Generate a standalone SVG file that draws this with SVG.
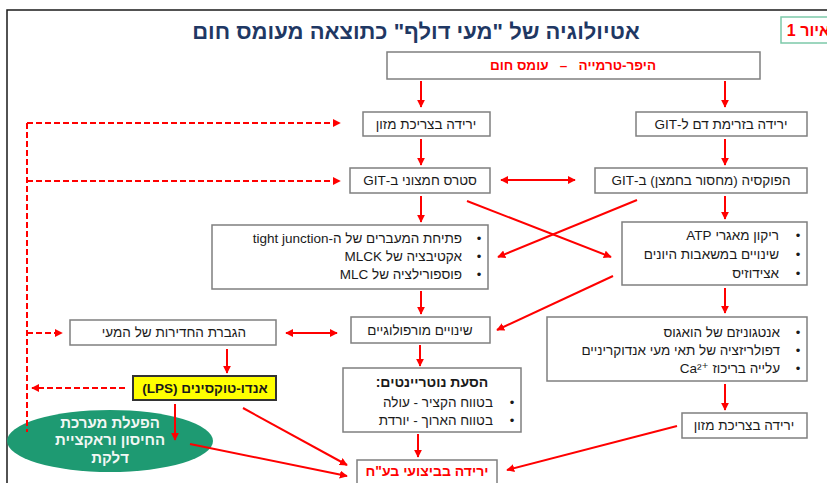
<svg xmlns="http://www.w3.org/2000/svg" width="827" height="483" viewBox="0 0 827 483">
<defs>
<marker id="ah" viewBox="0 0 10 10" refX="9" refY="5" markerWidth="4" markerHeight="4" orient="auto-start-reverse" markerUnits="strokeWidth">
<path d="M0,0 L10,5 L0,10 z" fill="#FF0000"/>
</marker>
<style>
.bx{fill:#FFFFFF;stroke:#7F7F7F;stroke-width:1.5}
.t{font-family:"Liberation Sans","DejaVu Sans",Arial,sans-serif;font-size:13.5px;fill:#1A1A1A;direction:rtl;unicode-bidi:embed}
.c{text-anchor:middle}
.r{text-anchor:start}
.b{font-weight:bold}
.red{fill:#FF0000}
.bul{font-family:"Liberation Sans",Arial,sans-serif;font-size:13px;fill:#1A1A1A;text-anchor:middle}
.ar{fill:none;stroke:#FF0000;stroke-width:2;marker-end:url(#ah)}
.ar2{fill:none;stroke:#FF0000;stroke-width:2;marker-end:url(#ah);marker-start:url(#ah)}
.da{fill:none;stroke:#FF0000;stroke-width:2;stroke-dasharray:6 3}
.dam{fill:none;stroke:#FF0000;stroke-width:2;stroke-dasharray:6 3;marker-end:url(#ah)}
.wt{font-size:15px;fill:#F2F7F4}
</style>
</defs>
<rect width="827" height="483" fill="#FFFFFF"/>
<path d="M7 483 L7 10 L827 10" fill="none" stroke="#1A1A1A" stroke-width="1.5"/>

<g id="title">
<text x="416" y="39" class="t c b" style="font-size:22px;fill:#1F3864">אטיולוגיה של "מעי דולף" כתוצאה מעומס חום</text>
</g>
<g id="figure-label">
<rect x="781" y="17" width="60" height="26" fill="#FFFFFF" stroke="#7CC9A9" stroke-width="1.5"/>
<text x="830" y="36" class="t r b red" style="font-size:16px">איור 1</text>
</g>

<g id="n-hyperthermia">
<rect x="387" y="52" width="373" height="27" class="bx"/>
<text x="573" y="70" class="t c b red" style="white-space:pre">היפר-טרמייה   –   עומס חום</text>
</g>
<g id="n-feed-intake">
<rect x="363" y="112" width="127" height="24" class="bx"/>
<text x="426" y="129" class="t c">ירידה בצריכת מזון</text>
</g>
<g id="n-blood-flow">
<rect x="636" y="112" width="171" height="24" class="bx"/>
<text x="721" y="129" class="t c">ירידה בזרימת דם ל-GIT</text>
</g>
<g id="n-oxidative">
<rect x="350" y="168" width="140" height="25" class="bx"/>
<text x="420" y="185" class="t c">סטרס חמצוני ב-GIT</text>
</g>
<g id="n-hypoxia">
<rect x="595" y="168" width="212" height="25" class="bx"/>
<text x="701" y="185" class="t c">הפוקסיה (מחסור בחמצן) ב-GIT</text>
</g>
<g id="n-tight-junction">
<rect x="212" y="225" width="276" height="64" class="bx"/>
<text x="479" y="243" class="bul">•</text>
<text x="479" y="261" class="bul">•</text>
<text x="479" y="279" class="bul">•</text>
<text x="462" y="243" class="t r">פתיחת המעברים של ה-tight junction</text>
<text x="462" y="261" class="t r">אקטיבציה של MLCK</text>
<text x="462" y="279" class="t r">פוספורילציה של MLC</text>
</g>
<g id="n-atp">
<rect x="622" y="222" width="185" height="63" class="bx"/>
<text x="798" y="240" class="bul">•</text>
<text x="798" y="259" class="bul">•</text>
<text x="798" y="278" class="bul">•</text>
<text x="779" y="240" class="t r">ריקון מאגרי ATP</text>
<text x="779" y="259" class="t r">שינויים במשאבות היונים</text>
<text x="779" y="278" class="t r">אצידוזיס</text>
</g>
<g id="n-permeability">
<rect x="70" y="320" width="206" height="25" class="bx"/>
<text x="174" y="337" class="t c">הגברת החדירות של המעי</text>
</g>
<g id="n-morphology">
<rect x="351" y="317" width="139" height="26" class="bx"/>
<text x="420" y="335" class="t c">שינויים מורפולוגיים</text>
</g>
<g id="n-antagonism">
<rect x="547" y="317" width="260" height="64" class="bx"/>
<text x="798" y="337" class="bul">•</text>
<text x="798" y="355" class="bul">•</text>
<text x="798" y="373" class="bul">•</text>
<text x="780" y="337" class="t r">אנטגוניזם של הואגוס</text>
<text x="780" y="355" class="t r">דפולריזציה של תאי מעי אנדוקריניים</text>
<text x="780" y="373" class="t r">עלייה בריכוז &#x2066;Ca²⁺&#x2069;</text>
</g>
<g id="n-lps">
<rect x="133" y="376" width="143" height="24" fill="#FFFF00" stroke="#333333" stroke-width="2"/>
<text x="205" y="393" class="t c b" style="font-size:13.5px">אנדו-טוקסינים (LPS)</text>
</g>
<g id="n-nutrients">
<rect x="343" y="368" width="178" height="64" class="bx"/>
<text x="432" y="387" class="t c b" style="font-size:14px">הסעת נוטריינטים:</text>
<text x="512" y="407" class="bul">•</text>
<text x="512" y="425" class="bul">•</text>
<text x="493" y="407" class="t r">בטווח הקציר - עולה</text>
<text x="493" y="425" class="t r">בטווח הארוך - יורדת</text>
</g>
<g id="n-immune">
<ellipse cx="110" cy="441" rx="103" ry="31" fill="#1E9A72"/>
<text x="110" y="428" class="t c b wt">הפעלת מערכת</text>
<text x="110" y="445" class="t c b wt">החיסון וראקציית</text>
<text x="110" y="463" class="t c b wt">דלקת</text>
</g>
<g id="n-feed-intake-2">
<rect x="682" y="413" width="125" height="25" class="bx"/>
<text x="744" y="430" class="t c">ירידה בצריכת מזון</text>
</g>
<g id="n-performance">
<rect x="357" y="460" width="140" height="28" class="bx"/>
<text x="427" y="476" class="t c b red" style="font-size:14px">ירידה בביצועי בע"ח</text>
</g>

<g id="connectors">
<path d="M421 81 L421 107" class="ar"/>
<path d="M725 81 L725 107" class="ar"/>
<path d="M421 139 L421 165" class="ar"/>
<path d="M725 139 L725 165" class="ar"/>
<path d="M501 180 L575 180" class="ar2"/>
<path d="M421 196 L421 222" class="ar"/>
<path d="M725 196 L725 219" class="ar"/>
<path d="M467 201 L611 257" class="ar"/>
<path d="M637 200 L498 257" class="ar"/>
<path d="M421 291 L421 314" class="ar"/>
<path d="M613 276 L497 330" class="ar"/>
<path d="M725 288 L725 313" class="ar"/>
<path d="M286 333 L337 333" class="ar2"/>
<path d="M227 349 L227 373" class="ar"/>
<path d="M420 345 L420 366" class="ar"/>
<path d="M418 434 L418 457" class="ar"/>
<path d="M725 384 L725 410" class="ar"/>
<path d="M677 426 L507 470" class="ar"/>
<path d="M243 408 L347 465" class="ar"/>
<path d="M190 444 L347 476" class="ar"/>
<path d="M175 404 L175 440" class="ar"/>
<path d="M27 123 L27 432" class="da"/>
<path d="M27 123 L340 123" class="dam"/>
<path d="M27 181 L340 181" class="dam"/>
<path d="M27 333 L62 333" class="dam"/>
<path d="M125 388 L32 388" class="dam"/>
</g>
</svg>
